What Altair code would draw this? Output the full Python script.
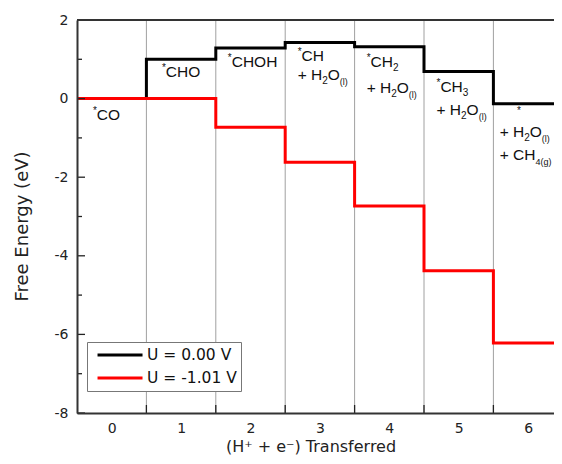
import altair as alt
import pandas as pd

# ---------------- data ----------------
steps = [0, 1, 2, 3, 4, 5, 6]
energy_u0 = [0.00, 1.00, 1.29, 1.43, 1.32, 0.69, -0.13]
energy_u101 = [0.00, 0.00, -0.73, -1.62, -2.73, -4.38, -6.22]
series_names = ["U = 0.00 V", "U = -1.01 V"]
series_colors = ["#000000", "#ff0000"]
y_ticks_major = [-8, -6, -4, -2, 0, 2]
y_ticks_minor = [-7, -5, -3, -1, 1]
x_boundaries = [0.5, 1.5, 2.5, 3.5, 4.5, 5.5]

# ---------------- layout ----------------
FONT = "DejaVu Sans"
AFONT = "Liberation Sans"
W, H = 477, 393
UX = 69.4
X_DOM = [-0.5, -0.5 + W / UX]
Y_DOM = [-8, 2]
UY = H / (Y_DOM[1] - Y_DOM[0])

xs = alt.Scale(domain=X_DOM, nice=False, zero=False)
ys = alt.Scale(domain=Y_DOM, nice=False, zero=False)

# step lines
line_rows = []
for name, vals in zip(series_names, [energy_u0, energy_u101]):
    for i, (s, v) in enumerate(zip(steps, vals)):
        line_rows.append(dict(series=name, x=s - 0.5, y=v, o=2 * i))
        line_rows.append(dict(series=name, x=s + 0.5, y=v, o=2 * i + 1))
lines_df = pd.DataFrame(line_rows)

# annotations: (anchor x, baseline y, runs)
h2o = [("+ H", "main"), ("2", "sub"), ("O", "main"), ("(l)", "tiny")]
labels = [
    (-0.27, -0.545, [("*", "sup"), ("CO", "main")]),
    (0.723, 0.55, [("*", "sup"), ("CHO", "main")]),
    (1.673, 0.80, [("*", "sup"), ("CHOH", "main")]),
    (2.68, 0.957, [("*", "sup"), ("CH", "main")]),
    (2.68, 0.473, h2o),
    (3.674, 0.80, [("*", "sup"), ("CH", "main"), ("2", "sub")]),
    (3.674, 0.14, h2o),
    (4.68, 0.168, [("*", "sup"), ("CH", "main"), ("3", "sub")]),
    (4.68, -0.417, h2o),
    (5.84, -0.54, [("*", "sup")]),
    (5.59, -0.977, h2o),
    (5.59, -1.56, [("+ CH", "main"), ("4(g)", "tiny")]),
]
CW = {' ': .278, '+': .584, '(': .333, ')': .333, '*': .389, 'C': .722, 'H': .722,
      'O': .778, 'l': .222, 'g': .556, '2': .556, '3': .556, '4': .556}
KIND = {"main": (15.5, 0), "sub": (10, 4), "tiny": (9, 5), "sup": (10, -6)}
ann_rows = []
for ax, ay, runs in labels:
    off = 0.0
    for text, kind in runs:
        size, shift = KIND[kind]
        ann_rows.append(dict(x=ax + off / UX, y=ay - shift / UY, t=text, s=size))
        off += sum(CW[c] for c in text) * size
ann_df = pd.DataFrame(ann_rows)

# ---------------- axes ----------------
x_axis = alt.Axis(
    values=steps, tickSize=0, labelPadding=8, labelFont=FONT, labelFontSize=14,
    labelColor="#222", title="(H⁺ + e⁻) Transferred", titleFont=FONT,
    titleFontSize=16, titleFontWeight="normal", titleColor="#222",
    titleX=233.5, titleY=38, titleBaseline="alphabetic", titleAlign="center",
    domainColor="#333", domainWidth=2, grid=False, zindex=1,
)
y_axis = alt.Axis(
    values=y_ticks_major, tickSize=0, labelPadding=9, labelFont=FONT,
    labelFontSize=14, labelColor="#222", labelExpr="'' + datum.value",
    title="Free Energy (eV)",
    titleFont=FONT, titleFontSize=18, titleFontWeight="normal", titleColor="#222",
    titleX=-50, titleY=206, titleBaseline="alphabetic", titleAlign="center",
    titleAngle=270, domainColor="#333", domainWidth=2, grid=False, zindex=1,
)

# ---------------- layers ----------------
grid = alt.Chart(pd.DataFrame({"b": x_boundaries})).mark_rule(
    color="#a0a0a0", strokeWidth=1
).encode(x=alt.X("b:Q", scale=xs, axis=x_axis))

color_enc = alt.Color(
    "series:N",
    scale=alt.Scale(domain=series_names, range=series_colors),
    legend=alt.Legend(
        title=None, orient="none", legendX=10, legendY=322, direction="vertical",
        symbolType="M-0.33,0H5.67", symbolSize=225, symbolStrokeWidth=3,
        labelFont=FONT, labelFontSize=15.5, labelColor="#111", labelOffset=38,
        padding=4, rowPadding=5, strokeColor="#777", fillColor="white",
        cornerRadius=0,
    ),
)


def line_layer(name):
    return alt.Chart(lines_df).transform_filter(
        alt.datum.series == name
    ).mark_line(strokeWidth=3, clip=True, strokeJoin="miter").encode(
        x=alt.X("x:Q", scale=xs, axis=x_axis),
        y=alt.Y("y:Q", scale=ys, axis=y_axis),
        order="o:Q",
        color=color_enc,
    )


black_line = line_layer(series_names[0])
red_line = line_layer(series_names[1])

x_ticks = alt.Chart(pd.DataFrame({"b": x_boundaries})).mark_rule(
    color="#222", strokeWidth=1.3
).encode(x=alt.X("b:Q", scale=xs, axis=x_axis), y=alt.value(H), y2=alt.value(H - 8))

y_major = alt.Chart(pd.DataFrame({"v": y_ticks_major})).mark_rule(
    color="#222", strokeWidth=1.3
).encode(y=alt.Y("v:Q", scale=ys, axis=y_axis), x=alt.value(0), x2=alt.value(8))

y_minor = alt.Chart(pd.DataFrame({"v": y_ticks_minor})).mark_rule(
    color="#222", strokeWidth=1.3
).encode(y=alt.Y("v:Q", scale=ys, axis=y_axis), x=alt.value(0), x2=alt.value(5))

top_frame = alt.Chart(pd.DataFrame({"a": [0]})).mark_rule(
    color="#333", strokeWidth=2
).encode(y=alt.value(0), x=alt.value(0), x2=alt.value(W))

texts = alt.Chart(ann_df).mark_text(
    align="left", baseline="alphabetic", font=AFONT, color="#111"
).encode(
    x=alt.X("x:Q", scale=xs, axis=x_axis),
    y=alt.Y("y:Q", scale=ys, axis=y_axis),
    text="t:N",
    size=alt.Size("s:Q", scale=None, legend=None),
)

chart = alt.layer(
    grid, black_line, red_line, x_ticks, y_major, y_minor, top_frame, texts
).properties(
    width=W, height=H,
    autosize=alt.AutoSizeParams(type="none"),
    padding={"left": 69, "top": 12, "right": 0, "bottom": 43},
).configure_view(stroke=None).configure(background="white")

chart.save("out.html", embed_options={"renderer": "svg", "actions": False})
